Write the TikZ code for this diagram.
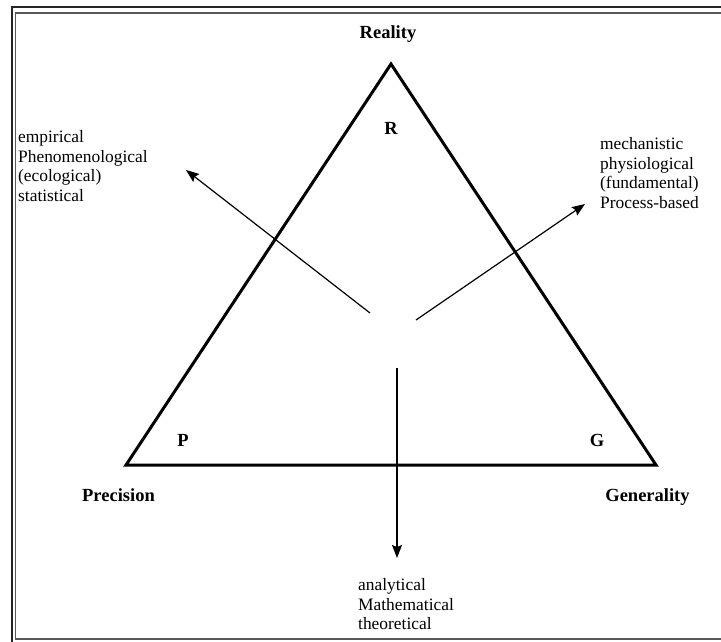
\documentclass[tikz,border=0pt]{standalone}
\usepackage{fontspec}
\setmainfont{Liberation Serif}
\usetikzlibrary{arrows.meta}
\begin{document}
\begin{tikzpicture}[x=1pt,y=-1pt,
  tri/.style={line width=3pt, line join=miter},
  arr/.style={line width=1.2pt, -{Stealth[length=13pt,width=10pt,inset=2pt]}},
  lab/.style={font=\fontsize{18.5}{20}\selectfont\bfseries, inner sep=0pt, anchor=base},
  txt/.style={font=\fontsize{17.4}{19.8}\selectfont, inner sep=0pt, anchor=north west, align=left},
  frameout/.style={line width=2pt, draw=black!85},
  framein/.style={line width=1.2pt, draw=black!65}]
\useasboundingbox (0,0) rectangle (721,641);
\fill[white] (0,0) rectangle (721,641);
\draw[frameout] (11.5,6.5) rectangle (760,680);
\draw[framein] (15.5,13) rectangle (740,639);
% triangle
\coordinate (R) at (391,64);
\coordinate (P) at (126,465);
\coordinate (G) at (656,465);
\draw[tri] (R) -- (P) -- (G) -- cycle;
% arrows
\coordinate (s1) at (370,313);
\coordinate (t1) at (186,170);
\coordinate (s2) at (416,320);
\coordinate (t2) at (585,204);
\coordinate (s3) at (397,368);
\coordinate (t3) at (397,558);
\draw[arr] (s1) -- (t1);
\draw[arr] (s2) -- (t2);
\draw[arr] (s3) -- (t3);
% labels
\node[lab] (reality) at (388,38) {Reality};
\node[lab] (rl) at (391,134) {R};
\node[lab] (pl) at (183,446) {P};
\node[lab] (gl) at (597,446) {G};
\node[lab] (prec) at (118.5,501) {Precision};
\node[lab] (gen) at (647.5,501) {Generality};
% text blocks
\node[txt] (emp) at (18,130) {empirical\\Phenomenological\\(ecological)\\statistical};
\node[txt] (mech) at (600,137) {mechanistic\\physiological\\(fundamental)\\Process-based};
\node[txt] (ana) at (358,578) {analytical\\Mathematical\\theoretical};
\end{tikzpicture}
\end{document}
